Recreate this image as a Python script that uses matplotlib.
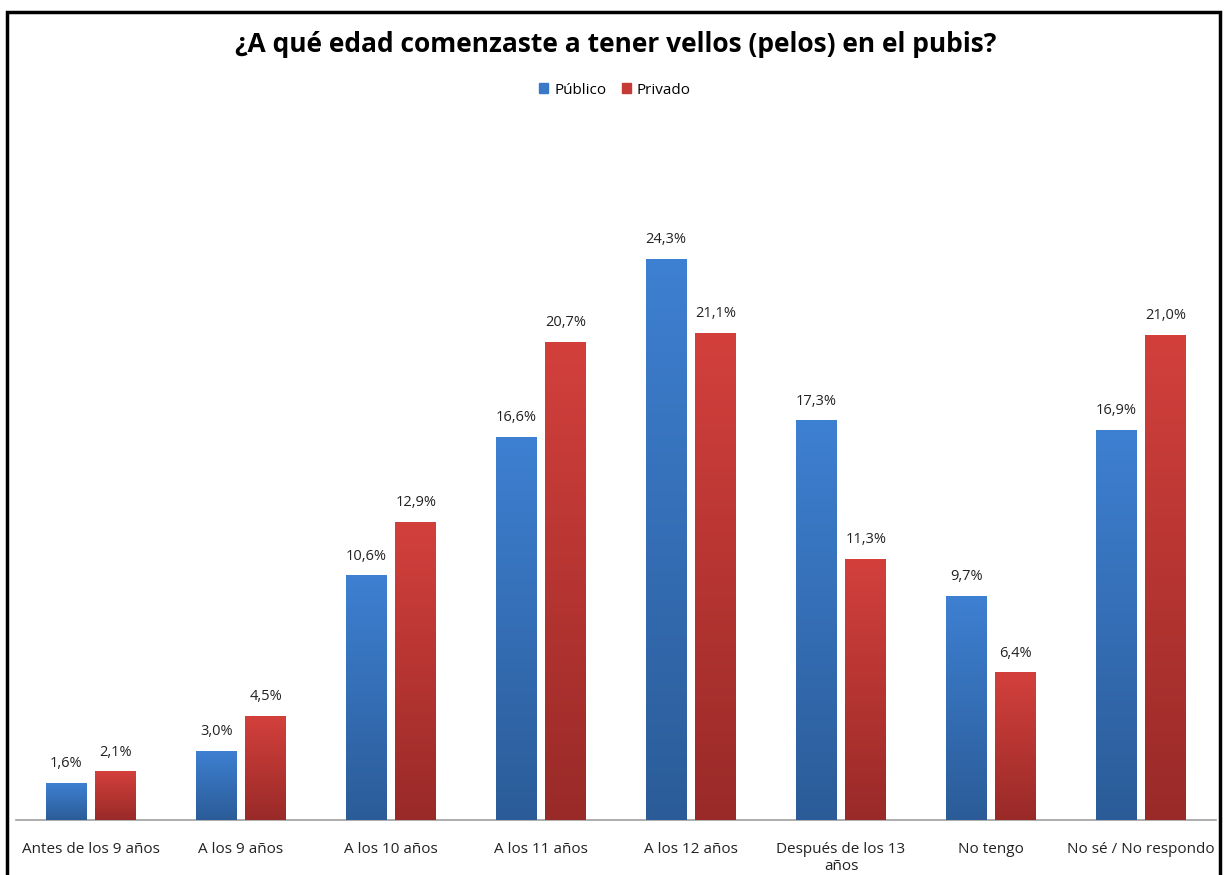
import matplotlib
matplotlib.use("Agg")
import matplotlib.pyplot as plt
import numpy as np
from matplotlib.colors import LinearSegmentedColormap
from matplotlib.patches import Rectangle
from matplotlib import font_manager

categories = ["Antes de los 9 años", "A los 9 años", "A los 10 años", "A los 11 años",
              "A los 12 años", "Después de los 13\naños", "No tengo", "No sé / No respondo"]
publico = [1.6, 3.0, 10.6, 16.6, 24.3, 17.3, 9.7, 16.9]
privado = [2.1, 4.5, 12.9, 20.7, 21.1, 11.3, 6.4, 21.0]
series_names = ["Público", "Privado"]
title = "¿A qué edad comenzaste a tener vellos (pelos) en el pubis?"

avail = {f.name for f in font_manager.fontManager.ttflist}
fam = "Liberation Sans Narrow" if "Liberation Sans Narrow" in avail else "Open Sans"
plt.rcParams['font.family'] = [fam, 'DejaVu Sans']

W, H = 1232, 875
fig = plt.figure(figsize=(W/100, H/100), dpi=100)
ax = fig.add_axes([16/W, 55/H, 1200/W, (820-127)/H])

x = np.arange(len(categories))
bw = 0.273
off = 0.165
blue_cmap = LinearSegmentedColormap.from_list("b", ["#2B5C98", "#3E80D2"])
red_cmap = LinearSegmentedColormap.from_list("r", ["#992A28", "#D3403C"])
grad = np.linspace(0, 1, 256).reshape(-1, 1)

def draw(xs, vals, cmap, base):
    bars = ax.bar(xs, vals, bw, color=base, zorder=2)
    for b, v in zip(bars, vals):
        im = ax.imshow(grad, cmap=cmap, origin="lower", aspect="auto",
                       extent=[b.get_x(), b.get_x()+b.get_width(), 0, v], zorder=3)
        im.set_clip_path(b)
        ax.text(b.get_x()+b.get_width()/2, v + 0.5, f"{v:.1f}%".replace(".", ","),
                ha="center", va="bottom", fontsize=10.5, color="#222222", zorder=4)
    return bars

b1 = draw(x - off, publico, blue_cmap, "#3A78C8")
b2 = draw(x + off, privado, red_cmap, "#C63A36")

ax.set_xlim(-0.5, len(categories) - 0.5)
ax.set_ylim(0, 30)
ax.set_yticks([])
ax.set_xticks(x)
ax.set_xticklabels(categories, fontsize=11, color="#222222")
ax.tick_params(axis="x", length=0, pad=16)
for s in ["top", "right", "left"]:
    ax.spines[s].set_visible(False)
ax.spines["bottom"].set_color("#A0A0A0")
ax.spines["bottom"].set_linewidth(1.2)

fig.text(0.5, 1 - 45/H, title, ha="center", va="center", fontsize=19, fontweight="bold", color="black")
leg = fig.legend([b1, b2], series_names, loc="center", bbox_to_anchor=(615/W, 1 - 90/H),
                 ncol=2, frameon=False, fontsize=11, handlelength=0.6, handleheight=0.6,
                 handletextpad=0.4, columnspacing=1.0)
leg.legend_handles[0].set_color("#3A78C8")
leg.legend_handles[1].set_color("#C63A36")

fig.patches.append(Rectangle((7/W, -0.02), (1220-7)/W, (H-12)/H + 0.02, transform=fig.transFigure,
                             fill=False, edgecolor="black", linewidth=2.5))
fig.savefig("out.png", dpi=100, facecolor="white")
